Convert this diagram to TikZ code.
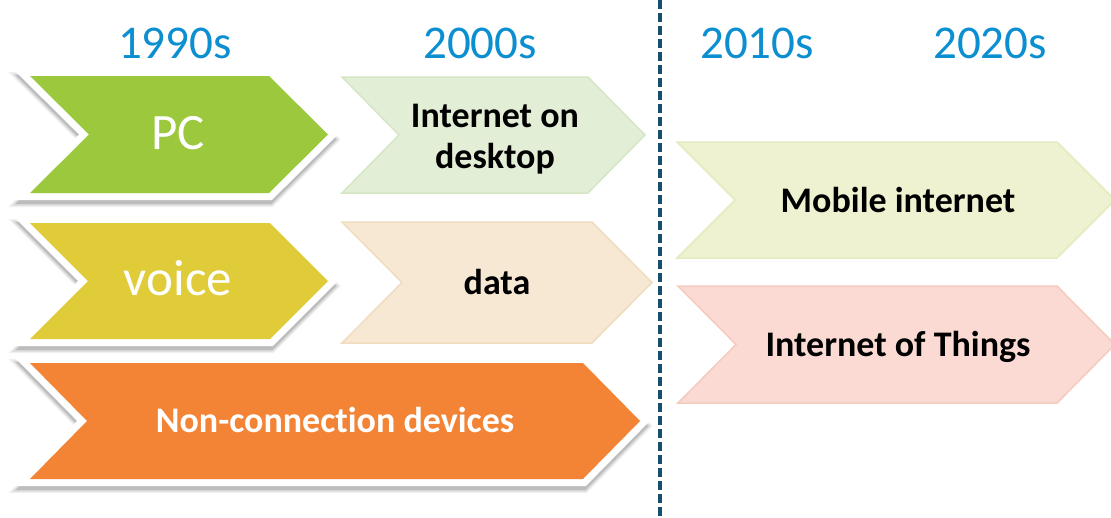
\documentclass[tikz,border=0pt]{standalone}
\usepackage{fontspec}
\setmainfont[Ligatures=NoCommon]{Carlito}
\definecolor{yearblue}{HTML}{0B8FD0}
\definecolor{divblue}{HTML}{164F6E}
\definecolor{pcgreen}{HTML}{9BC83D}
\definecolor{voiceyel}{HTML}{E0CB38}
\definecolor{ncorange}{HTML}{F38436}
\definecolor{iodfill}{HTML}{E2EED6}
\definecolor{iodline}{HTML}{D5E6C4}
\definecolor{datafill}{HTML}{F6E8D3}
\definecolor{dataline}{HTML}{F0DCBF}
\definecolor{mobfill}{HTML}{EFF2D0}
\definecolor{mobline}{HTML}{E5EBC0}
\definecolor{iotfill}{HTML}{FADAD2}
\definecolor{iotline}{HTML}{F5CBBF}
\tikzset{
  year/.style={text=yearblue, font=\fontsize{47}{56}\selectfont, anchor=base, inner sep=0pt},
  biglbl/.style={text=white, font=\fontsize{51}{60}\selectfont, anchor=base, inner sep=0pt},
  boldlbl/.style={text=black, font=\bfseries\fontsize{36}{41}\selectfont, anchor=base, inner sep=0pt},
  whitelbl/.style={boldlbl, text=white},
  divider/.style={draw=divblue, line width=3.2pt, dash pattern=on 9pt off 4pt},
}
\newcommand\chevshape[5]{(#1,#3) -- ({#2-#5},#3) -- (#2,{(#3+#4)/2}) -- ({#2-#5},#4) -- (#1,#4) -- ({#1+#5},{(#3+#4)/2}) -- cycle}
% #1 fill colour, #2 xl, #3 xr, #4 top, #5 bottom, #6 depth
\newcommand\darkchev[6]{%
  \foreach \w/\o in {18/0.06,15/0.09,12/0.13}{%
    \path[fill=black, draw=black, line width=\w pt, opacity=\o, line join=miter, shift={(0,5)}] \chevshape{#2}{#3}{#4}{#5}{#6};}
  \path[fill=white, draw=white, line width=14pt, line join=miter] \chevshape{#2}{#3}{#4}{#5}{#6};
  \path[fill=#1] \chevshape{#2}{#3}{#4}{#5}{#6};
}
% #1 fill colour, #2 line colour, #3 xl, #4 xr, #5 top, #6 bottom, #7 depth
\newcommand\lightchev[7]{%
  \path[fill=#1, draw=#2, line width=1.5pt, line join=miter] \chevshape{#3}{#4}{#5}{#6}{#7};
}
\begin{document}
\begin{tikzpicture}[x=1pt, y=-1pt]
\useasboundingbox[fill=white] (0,0) rectangle (1111,517);
% divider
\coordinate (dtop) at (660,0);
\coordinate (dbot) at (660,517);
\draw[divider] (dtop) -- (dbot);
% year headers
\node[year] (y1990) at (175,58) {1990s};
\node[year] (y2000) at (480,58) {2000s};
\node[year] (y2010) at (757,58) {2010s};
\node[year] (y2020) at (990,58) {2020s};
% light chevrons
\lightchev{iodfill}{iodline}{342}{645}{77}{193}{57}
\lightchev{datafill}{dataline}{342}{652}{222}{343}{60}
\lightchev{mobfill}{mobline}{677}{1115}{142}{258}{58}
\lightchev{iotfill}{iotline}{678}{1115}{286}{403}{58}
% dark chevrons
\darkchev{pcgreen}{30}{328}{76}{193}{59}
\darkchev{voiceyel}{30}{328}{223}{339}{58}
\darkchev{ncorange}{30}{640}{363}{479}{57}
% labels
\node[biglbl] (pc) at (178,149) {PC};
\node[biglbl] (voice) at (178,295) {voice};
\node[whitelbl] (nc) at (335,432) {Non-connection devices};
\node[boldlbl, align=center, anchor=center] (iod) at (495,139) {Internet on\\desktop};
\node[boldlbl] (data) at (497,294) {data};
\node[boldlbl] (mob) at (898,212) {Mobile internet};
\node[boldlbl] (iot) at (898,356) {Internet of Things};
\end{tikzpicture}
\end{document}
